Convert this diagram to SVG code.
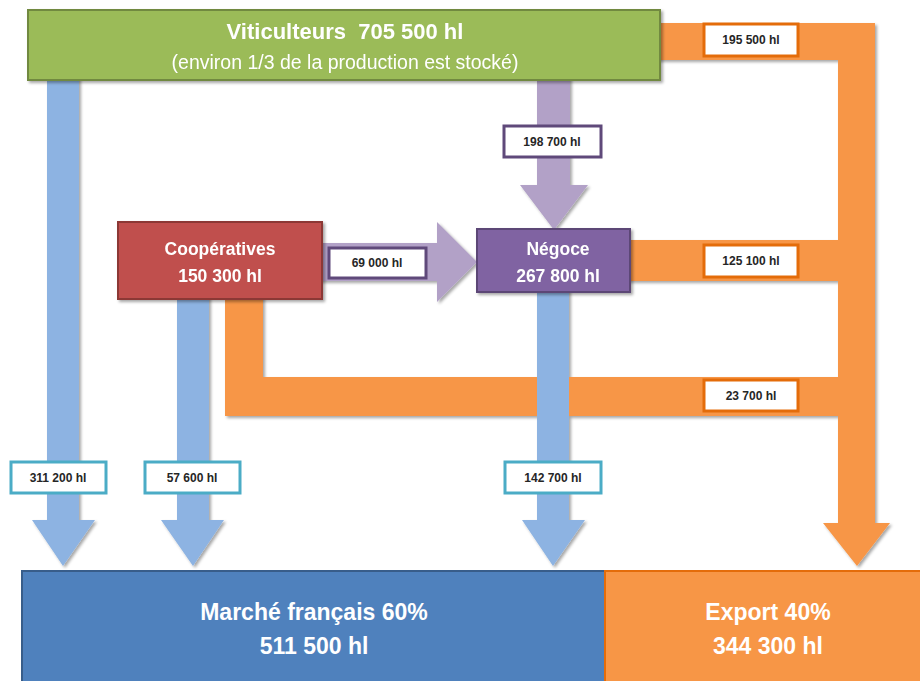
<svg xmlns="http://www.w3.org/2000/svg" width="920" height="681" viewBox="0 0 920 681">
<defs>
<filter id="sh" x="-10%" y="-10%" width="130%" height="130%">
<feDropShadow dx="2" dy="2" stdDeviation="1.5" flood-color="#000" flood-opacity="0.35"/>
</filter>
<style>
.blue{fill:#8DB3E2;}
.purple{fill:#B2A1C7;}
.orange{fill:#F79646;}
.lbl{fill:#fff;stroke-width:3;}
.lb{stroke:#4BACC6;}
.lp{stroke:#5F497A;}
.lo{stroke:#E46C0A;}
.lt{font-family:"Liberation Sans",Arial,sans-serif;font-size:12px;font-weight:bold;fill:#262626;text-anchor:middle;}
.nt{font-family:"Liberation Sans",Arial,sans-serif;font-weight:bold;fill:#fff;text-anchor:middle;}
</style>
</defs>
<rect width="920" height="681" fill="#fff"/>
<g id="connectors" filter="url(#sh)">
<path class="orange" d="M640 23 H875 V523 H890 L857 566 L823 523 H838 V60 H640 Z"/>
<rect class="orange" x="620" y="240" width="218" height="41"/>
<path class="orange" d="M225 290 H263 V377 H838 V416 H225 Z"/>
<path class="blue" d="M47 75 H79 V520 H95 L63 566 L32 520 H47 Z"/>
<path class="blue" d="M177 290 H209 V520 H224 L193 566 L161 520 H177 Z"/>
<path class="blue" d="M537 285 H569 V520 H585 L553 566 L522 520 H537 Z"/>
<path class="purple" d="M537 75 H570 V185 H588 L554 230 L520 185 H537 Z"/>
<path class="purple" d="M315 243 H437 V222 L477 262 L437 302 V281 H315 Z"/>
</g>
<g id="labels">
<rect class="lbl lo" x="704" y="24" width="94" height="32"/>
<text class="lt" x="751" y="44">195 500 hl</text>
<rect class="lbl lp" x="504" y="126" width="97" height="31"/>
<text class="lt" x="552" y="146">198 700 hl</text>
<rect class="lbl lp" x="329" y="248" width="97" height="30"/>
<text class="lt" x="377" y="267">69 000 hl</text>
<rect class="lbl lo" x="704" y="245" width="94" height="32"/>
<text class="lt" x="751" y="265">125 100 hl</text>
<rect class="lbl lo" x="704" y="380" width="94" height="31"/>
<text class="lt" x="751" y="400">23 700 hl</text>
<rect class="lbl lb" x="11" y="462" width="95" height="31"/>
<text class="lt" x="58" y="482">311 200 hl</text>
<rect class="lbl lb" x="145" y="462" width="95" height="31"/>
<text class="lt" x="192" y="482">57 600 hl</text>
<rect class="lbl lb" x="505" y="462" width="96" height="31"/>
<text class="lt" x="553" y="482">142 700 hl</text>
</g>
<g id="viticulteurs" filter="url(#sh)">
<rect x="28" y="10" width="632" height="70" fill="#9BBB59" stroke="#71893F" stroke-width="2"/>
<text class="nt" x="345" y="39" font-size="22" xml:space="preserve">Viticulteurs  705 500 hl</text>
<text x="345" y="69" font-family="'Liberation Sans',Arial,sans-serif" font-size="19.5" fill="#fff" text-anchor="middle">(environ 1/3 de la production est stocké)</text>
</g>
<g id="cooperatives" filter="url(#sh)">
<rect x="118" y="222" width="204" height="77" fill="#C0504D" stroke="#8C3836" stroke-width="2"/>
<text class="nt" x="220" y="255" font-size="17.5">Coopératives</text>
<text class="nt" x="220" y="282" font-size="17.5">150 300 hl</text>
</g>
<g id="negoce" filter="url(#sh)">
<rect x="477" y="229" width="153" height="63" fill="#8064A2" stroke="#5C4776" stroke-width="2"/>
<text class="nt" x="558" y="255" font-size="17.5">Négoce</text>
<text class="nt" x="558" y="282" font-size="17.5">267 800 hl</text>
</g>
<g id="marche">
<rect x="22" y="571" width="583" height="115" fill="#4F81BD" stroke="#385D8A" stroke-width="2"/>
<text class="nt" x="314" y="620" font-size="23">Marché français 60%</text>
<text class="nt" x="314" y="654" font-size="23">511 500 hl</text>
</g>
<g id="export">
<rect x="605" y="571" width="320" height="115" fill="#F79646" stroke="#E46C0A" stroke-width="2"/>
<text class="nt" x="768" y="620" font-size="23">Export 40%</text>
<text class="nt" x="768" y="654" font-size="23">344 300 hl</text>
</g>
</svg>
